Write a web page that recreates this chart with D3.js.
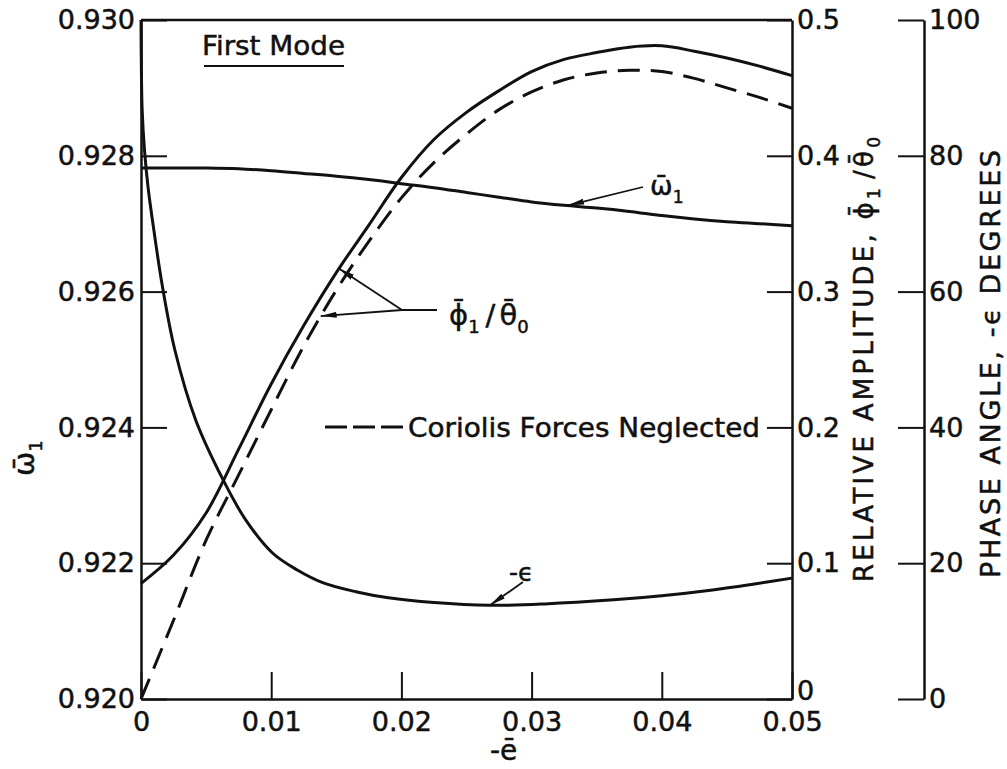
<!DOCTYPE html>
<html>
<head>
<meta charset="utf-8">
<script src="https://cdn.jsdelivr.net/npm/d3@7"></script>
<style>
  html, body { margin: 0; padding: 0; background: #fff; }
  svg { display: block; }
  text { font-family: "DejaVu Sans", "Liberation Sans", sans-serif; fill: #111; stroke: #111; stroke-width: 0.5px; }
</style>
</head>
<body>
<svg id="chart" width="1007" height="769"></svg>
<script>
// Eccentricity parameter -e (abscissa)
const eGrid = [0, 0.0025, 0.005, 0.0075, 0.01, 0.0125, 0.015, 0.0175, 0.02, 0.0225,
               0.025, 0.0275, 0.03, 0.0325, 0.035, 0.0375, 0.04, 0.0425, 0.045, 0.0475, 0.05];

// Natural frequency of the first mode (left axis)
const omegaBar = [0.92782, 0.92782, 0.92782, 0.92781, 0.92778, 0.92774, 0.92770, 0.92765, 0.92759, 0.92753,
                  0.92746, 0.92739, 0.92732, 0.92727, 0.92723, 0.92718, 0.92712, 0.92707, 0.92703, 0.92700, 0.92697];

// Relative amplitude phi1/theta0 (middle axis)
const amplitude = [0.085, 0.106, 0.137, 0.184, 0.232, 0.275, 0.314, 0.349, 0.384, 0.412,
                   0.432, 0.448, 0.462, 0.471, 0.476, 0.480, 0.481, 0.477, 0.472, 0.466, 0.459];

// Same amplitude with Coriolis forces neglected
const amplitudeNoCoriolis = [0, 0.058, 0.117, 0.165, 0.213, 0.260, 0.301, 0.337, 0.369, 0.395,
                             0.416, 0.434, 0.447, 0.456, 0.461, 0.463, 0.462, 0.457, 0.450, 0.443, 0.435];

// Phase angle -epsilon in degrees (outer right axis)
const phaseE   = [0, 0.00003, 0.00009, 0.00027, 0.00054, 0.00088, 0.00165, 0.0026, 0.0042, 0.0063,
                  0.008, 0.0101, 0.012, 0.014, 0.0165, 0.019, 0.0225, 0.0268, 0.031, 0.0363, 0.04, 0.0439, 0.047, 0.05];
const phaseDeg = [100, 92.6, 86.7, 80.8, 75.4, 70.5, 60.7, 51.4, 41.1, 32.3,
                  26.5, 21.5, 19, 17.1, 15.8, 14.9, 14.2, 13.8, 14.0, 14.6, 15.2, 16.05, 16.9, 17.8];

// Tick values and labels
const xTicks = [0, 0.01, 0.02, 0.03, 0.04, 0.05];
const xTickLabels = ["0", "0.01", "0.02", "0.03", "0.04", "0.05"];
const omegaTicks = [0.920, 0.922, 0.924, 0.926, 0.928, 0.930];
const ampTicks = [0, 0.1, 0.2, 0.3, 0.4, 0.5];
const ampTickLabels = ["0", "0.1", "0.2", "0.3", "0.4", "0.5"];
const phaseTicks = [0, 20, 40, 60, 80, 100];

const svg = d3.select("#chart");
const W = 1007, H = 769;
svg.append("rect").attr("width", W).attr("height", H).attr("fill", "#fff");

const L = 141, R = 792, T = 20, B = 699, A3 = 924;
const ink = "#111";

const x = d3.scaleLinear().domain([0, 0.05]).range([L, R]);
const yW = d3.scaleLinear().domain([0.920, 0.930]).range([B, T]);
const yA = d3.scaleLinear().domain([0, 0.5]).range([B, T]);
const yP = d3.scaleLinear().domain([0, 100]).range([B, T]);

// arrowhead marker
svg.append("defs").append("marker")
  .attr("id", "arrow").attr("viewBox", "0 0 16 8")
  .attr("refX", 16).attr("refY", 4)
  .attr("markerWidth", 16).attr("markerHeight", 8)
  .attr("markerUnits", "userSpaceOnUse")
  .attr("orient", "auto")
  .append("path").attr("d", "M0,1 L16,4 L0,7 Z").attr("fill", ink);

function styleAxis(g, fontSize) {
  g.selectAll("path.domain").attr("stroke", ink).attr("stroke-width", 2.5);
  g.selectAll(".tick line").attr("stroke", ink).attr("stroke-width", 2);
  g.selectAll(".tick text")
    .attr("fill", ink)
    .style("font-size", fontSize + "px");
}

// top border
svg.append("line").attr("x1", L).attr("x2", R).attr("y1", T).attr("y2", T)
  .attr("stroke", ink).attr("stroke-width", 2.5);

// left axis
const gLeft = svg.append("g").attr("transform", `translate(${L},0)`)
  .call(d3.axisLeft(yW).tickValues(omegaTicks).tickFormat(d3.format(".3f"))
    .tickSizeInner(-26).tickSizeOuter(0).tickPadding(6));
styleAxis(gLeft, 27);

// bottom axis
const gBottom = svg.append("g").attr("transform", `translate(0,${B})`)
  .call(d3.axisBottom(x).tickValues(xTicks).tickFormat((d, i) => xTickLabels[i])
    .tickSizeInner(-27).tickSizeOuter(0).tickPadding(13));
styleAxis(gBottom, 27);

// right amplitude axis
const gRight = svg.append("g").attr("transform", `translate(${R},0)`)
  .call(d3.axisRight(yA).tickValues(ampTicks).tickFormat((d, i) => ampTickLabels[i])
    .tickSizeInner(-25).tickSizeOuter(0).tickPadding(5));
styleAxis(gRight, 27);
// the zero label sits slightly above the corner
gRight.selectAll(".tick").filter(d => d === 0).select("text").attr("y", -8);

// outer phase axis
const gPhase = svg.append("g").attr("transform", `translate(${A3},0)`)
  .call(d3.axisRight(yP).tickValues(phaseTicks).tickFormat(d3.format("d"))
    .tickSizeInner(-26).tickSizeOuter(0).tickPadding(5));
styleAxis(gPhase, 27);

// curves
const curve = d3.curveCatmullRom.alpha(0.5);
const lineW = d3.line().x((d, i) => x(eGrid[i])).y(d => yW(d)).curve(curve);
const lineA = d3.line().x((d, i) => x(eGrid[i])).y(d => yA(d)).curve(curve);
const lineP = d3.line().x((d, i) => x(phaseE[i])).y(d => yP(d)).curve(curve);

svg.append("path").attr("d", lineW(omegaBar))
  .attr("fill", "none").attr("stroke", ink).attr("stroke-width", 3);
svg.append("path").attr("d", lineA(amplitude))
  .attr("fill", "none").attr("stroke", ink).attr("stroke-width", 3);
svg.append("path").attr("d", lineA(amplitudeNoCoriolis))
  .attr("fill", "none").attr("stroke", ink).attr("stroke-width", 3)
  .attr("stroke-dasharray", "22 11");
svg.append("path").attr("d", lineP(phaseDeg))
  .attr("fill", "none").attr("stroke", ink).attr("stroke-width", 3);

// "First Mode" heading
svg.append("text").attr("x", 202).attr("y", 55)
  .attr("textLength", 143).attr("lengthAdjust", "spacingAndGlyphs")
  .style("font-size", "27px").text("First Mode");
svg.append("line").attr("x1", 204).attr("x2", 344).attr("y1", 66).attr("y2", 66)
  .attr("stroke", ink).attr("stroke-width", 2);

// legend for the dashed curve
svg.append("line").attr("x1", 325).attr("x2", 403).attr("y1", 427).attr("y2", 427)
  .attr("stroke", ink).attr("stroke-width", 3).attr("stroke-dasharray", "22 6");
svg.append("text").attr("x", 408).attr("y", 437)
  .attr("textLength", 352).attr("lengthAdjust", "spacingAndGlyphs")
  .style("font-size", "26px").text("Coriolis Forces Neglected");

// omega label with pointer
svg.append("line").attr("x1", 643).attr("y1", 187).attr("x2", x(0.0328)).attr("y2", yW(0.92727))
  .attr("stroke", ink).attr("stroke-width", 1.8).attr("marker-end", "url(#arrow)");
const wl = svg.append("text").attr("x", 650).attr("y", 195).style("font-size", "27px");
wl.append("tspan").text("ω\u0304");
wl.append("tspan").attr("dy", 8).style("font-size", "17px").text("1");

// phi/theta label with two pointers
svg.append("line").attr("x1", 437).attr("y1", 310).attr("x2", 402).attr("y2", 310)
  .attr("stroke", ink).attr("stroke-width", 1.8);
svg.append("line").attr("x1", 402).attr("y1", 310).attr("x2", x(0.0152)).attr("y2", yA(0.317))
  .attr("stroke", ink).attr("stroke-width", 1.8).attr("marker-end", "url(#arrow)");
svg.append("line").attr("x1", 402).attr("y1", 310).attr("x2", x(0.0138)).attr("y2", yA(0.282))
  .attr("stroke", ink).attr("stroke-width", 1.8).attr("marker-end", "url(#arrow)");
const pl = svg.append("text").attr("x", 449).attr("y", 325).style("font-size", "29px");
pl.append("tspan").text("ϕ\u0304");
pl.append("tspan").attr("dy", 8).style("font-size", "18px").text("1");
pl.append("tspan").attr("dy", -8).attr("dx", 6).text("/");
pl.append("tspan").attr("dx", 4).text("θ\u0304");
pl.append("tspan").attr("dy", 8).style("font-size", "18px").text("0");

// -epsilon label with pointer
svg.append("line").attr("x1", 523).attr("y1", 582).attr("x2", x(0.0268)).attr("y2", yP(13.8))
  .attr("stroke", ink).attr("stroke-width", 1.8).attr("marker-end", "url(#arrow)");
svg.append("text").attr("x", 509).attr("y", 581).style("font-size", "25px").text("-ϵ");

// axis titles
svg.append("text").attr("x", 490).attr("y", 760).style("font-size", "28px").text("-e\u0304");

const lt = svg.append("text").attr("transform", "translate(34,476) rotate(-90)").style("font-size", "29px");
lt.append("tspan").text("ω\u0304");
lt.append("tspan").attr("dy", 8).style("font-size", "18px").text("1");

const rt = svg.append("text")
  .attr("transform", `translate(873,582) rotate(-90)`)
  .attr("textLength", 445).attr("lengthAdjust", "spacing")
  .style("font-size", "26px");
rt.append("tspan").text("RELATIVE AMPLITUDE, ");
rt.append("tspan").text("ϕ\u0304");
rt.append("tspan").attr("dy", 7).style("font-size", "17px").text("1");
rt.append("tspan").attr("dy", -7).attr("dx", 6).text("/");
rt.append("tspan").text("θ\u0304");
rt.append("tspan").attr("dy", 7).style("font-size", "17px").text("0");

svg.append("text")
  .attr("transform", `translate(1000,578) rotate(-90)`)
  .attr("textLength", 428).attr("lengthAdjust", "spacing")
  .style("font-size", "27px").text("PHASE ANGLE, -ϵ DEGREES");
</script>
</body>
</html>
